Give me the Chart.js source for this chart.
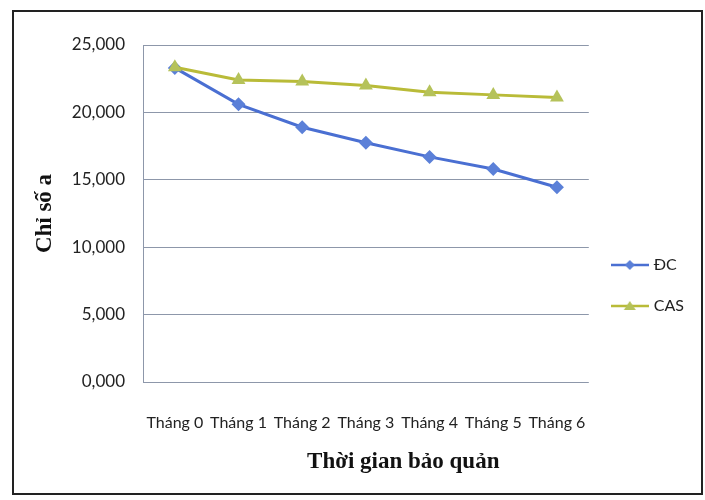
<!DOCTYPE html>
<html>
<head>
<meta charset="utf-8">
<script src="https://cdn.jsdelivr.net/npm/chart.js@4.4.1/dist/chart.umd.min.js"></script>
<style>
  html, body { margin: 0; padding: 0; background: #fff; }
  #wrap { width: 705px; height: 500px; }
</style>
</head>
<body>
<div id="wrap"><canvas id="chart" width="705" height="500"></canvas></div>
<script>
// --- data ---
const months = ['Tháng 0', 'Tháng 1', 'Tháng 2', 'Tháng 3', 'Tháng 4', 'Tháng 5', 'Tháng 6'];
const dcValues = [23.3, 20.6, 18.9, 17.75, 16.7, 15.8, 14.45];
const casValues = [23.35, 22.4, 22.3, 22.0, 21.5, 21.3, 21.1];
const yTicks = [0, 5, 10, 15, 20, 25];

const blueLine = '#4a6fd2', blueMark = '#5b80d8';
const greenLine = '#b9bb38', greenMark = '#b5c25a';
const gridColor = '#8d97aa';

// legend swatch: short line with the marker in the middle (Excel style)
function swatch(lineColor, markColor, shape) {
    const c = document.createElement('canvas');
    c.width = 38; c.height = 14;
    const g = c.getContext('2d');
    g.strokeStyle = lineColor; g.lineWidth = 2.5;
    g.beginPath(); g.moveTo(0, 7); g.lineTo(38, 7); g.stroke();
    g.fillStyle = markColor;
    g.beginPath();
    if (shape === 'diamond') {
        g.moveTo(19, 2); g.lineTo(24, 7); g.lineTo(19, 12); g.lineTo(14, 7);
    } else {
        g.moveTo(19, 2); g.lineTo(25, 11); g.lineTo(13, 11);
    }
    g.closePath(); g.fill();
    return c;
}
const swatches = [swatch(blueLine, blueMark, 'diamond'), swatch(greenLine, greenMark, 'triangle')];

const framePlugin = {
    id: 'frame',
    beforeDraw(chart) {
        const ctx = chart.ctx;
        ctx.save();
        ctx.fillStyle = '#fff';
        ctx.fillRect(0, 0, chart.width, chart.height);
        ctx.strokeStyle = '#222';
        ctx.lineWidth = 2;
        ctx.strokeRect(13, 11, 689, 483);
        ctx.restore();
    },
    afterLayout(chart) {
        // push legend down a bit, like the original
        chart.legend.top += 18;
        chart.legend.bottom += 18;
    }
};

new Chart(document.getElementById('chart'), {
    type: 'line',
    data: {
        labels: months,
        datasets: [{
            label: 'ĐC',
            data: dcValues,
            borderColor: blueLine,
            backgroundColor: blueMark,
            borderWidth: 3,
            pointStyle: 'rectRot',
            pointRadius: 7,
            pointBorderWidth: 0,
            order: 1
        }, {
            label: 'CAS',
            data: casValues,
            borderColor: greenLine,
            backgroundColor: greenMark,
            borderWidth: 3,
            pointStyle: 'triangle',
            pointRadius: 8,
            pointBorderWidth: 0,
            order: 0
        }]
    },
    options: {
        responsive: false,
        animation: false,
        layout: { padding: { left: 16, right: 11, top: 45, bottom: 10 } },
        plugins: {
            tooltip: { enabled: false },
            legend: {
                position: 'right',
                labels: {
                    usePointStyle: true,
                    pointStyleWidth: 32,
                    padding: 25,
                    color: '#222',
                    font: { family: 'Lato', size: 16 },
                    sort: (a, b) => a.datasetIndex - b.datasetIndex,
                    generateLabels(chart) {
                        return chart.data.datasets.map((ds, i) => ({
                            text: ds.label,
                            pointStyle: swatches[i],
                            fillStyle: ds.backgroundColor,
                            strokeStyle: ds.borderColor,
                            lineWidth: 0,
                            fontColor: '#222',
                            datasetIndex: i,
                            hidden: false
                        }));
                    }
                }
            }
        },
        scales: {
            x: {
                offset: true,
                grid: { display: false, drawTicks: false },
                border: { display: false },
                ticks: {
                    color: '#222',
                    padding: 31,
                    maxRotation: 0,
                    autoSkip: false,
                    font: { family: 'Lato', size: 16 }
                },
                title: {
                    display: true,
                    text: '             Thời gian bảo quản',
                    color: '#111',
                    padding: { top: 0, bottom: 14 },
                    font: { family: 'Liberation Serif', size: 23, weight: 'bold' }
                },
                afterFit(scale) { scale.height = 108; }
            },
            y: {
                min: 0,
                max: 25,
                afterBuildTicks(scale) { scale.ticks = yTicks.map(v => ({ value: v })); },
                grid: { color: gridColor, lineWidth: 1, drawTicks: false },
                border: { display: true, color: gridColor },
                ticks: {
                    color: '#222',
                    padding: 18,
                    font: { family: 'Lato', size: 17 },
                    callback: v => v.toFixed(3).replace('.', ',')
                },
                title: {
                    display: true,
                    text: 'Chỉ số a',
                    color: '#111',
                    padding: { top: 15, bottom: 0 },
                    font: { family: 'Liberation Serif', size: 23, weight: 'bold' }
                },
                afterFit(scale) { scale.width = 127; }
            }
        }
    },
    plugins: [framePlugin]
});
</script>
</body>
</html>
